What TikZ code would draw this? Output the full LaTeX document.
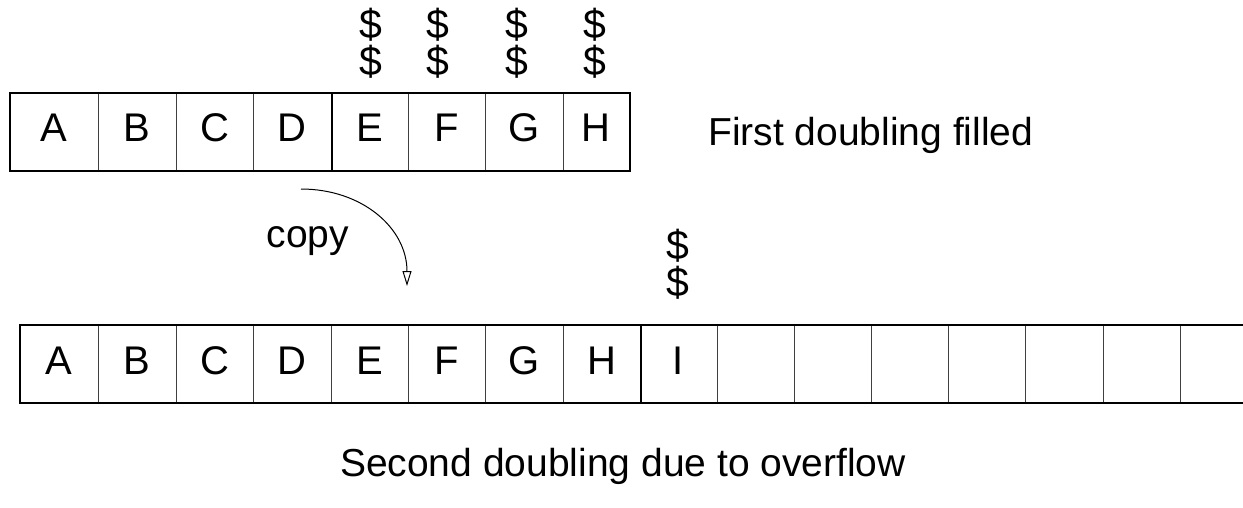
\documentclass[tikz,border=0pt]{standalone}
\usepackage{fontspec}
\setmainfont{Liberation Sans}
\usetikzlibrary{arrows.meta}
\tikzset{
  cell/.style={draw=black!75, line width=1pt, minimum height=77pt, inner sep=0pt, text depth=7pt, font=\fontsize{40}{48}\selectfont},
  outer/.style={draw=black, line width=2pt},
  divider/.style={draw=black, line width=2pt},
  lbl/.style={inner sep=0pt, font=\fontsize{39}{47}\selectfont},
  dollar/.style={inner sep=0pt, font=\fontsize{41}{48}\selectfont},
  copyarrow/.style={draw=black, line width=1pt, -{Triangle[open, length=15pt, width=9pt, line width=1pt]}}
}
\begin{document}
\begin{tikzpicture}[x=1pt, y=-1pt]
\useasboundingbox (0,0) rectangle (1243,507);
\begin{scope}
\clip (0,0) rectangle (1243,507);
% top array
\foreach \l/\r/\t [count=\i] in {10.5/98/A, 98/176/B, 176/253/C, 253/331/D, 331/408/E, 408/485/F, 485/563/G, 563/629/H}
  \node[cell, minimum width={(\r-\l)*1pt}] (t\i) at ({(\l+\r)/2},131.5) {\t};
\draw[outer] (t1.north west) rectangle (t8.south east);
\draw[divider] (t4.north east) -- (t4.south east);
% bottom array
\foreach \l/\r/\t [count=\i] in {20.5/98/A, 98/176/B, 176/253/C, 253/331/D, 331/408/E, 408/485/F, 485/563/G, 563/640/H, 640/717/I, 717/794/{}, 794/871/{}, 871/948/{}, 948/1025/{}, 1025/1103/{}, 1103/1180/{}, 1180/1257/{}}
  \node[cell, minimum width={(\r-\l)*1pt}] (b\i) at ({(\l+\r)/2},364) {\t};
\draw[outer] (b1.north west) rectangle (b16.south east);
\draw[divider] (b8.north east) -- (b8.south east);
\end{scope}
% dollar signs
\foreach \x [count=\i] in {371,438,517,595} {
  \node[dollar] (du\i) at (\x,25) {\$};
  \node[dollar] (dl\i) at (\x,62) {\$};
}
\node[dollar] (bu) at (678,246) {\$};
\node[dollar] (bl) at (678,283) {\$};
% labels
\node[lbl, anchor=base west] (first) at (708,145) {First doubling filled};
\node[lbl, anchor=base] (second) at (623,476) {Second doubling due to overflow};
\node[lbl, anchor=base] (copy) at (308,247) {copy};
% copy arrow
\coordinate (cs) at (301,189);
\coordinate (ce) at (407,286);
\draw[copyarrow] (cs) .. controls (362,189) and (407,228) .. (ce);
\end{tikzpicture}
\end{document}
